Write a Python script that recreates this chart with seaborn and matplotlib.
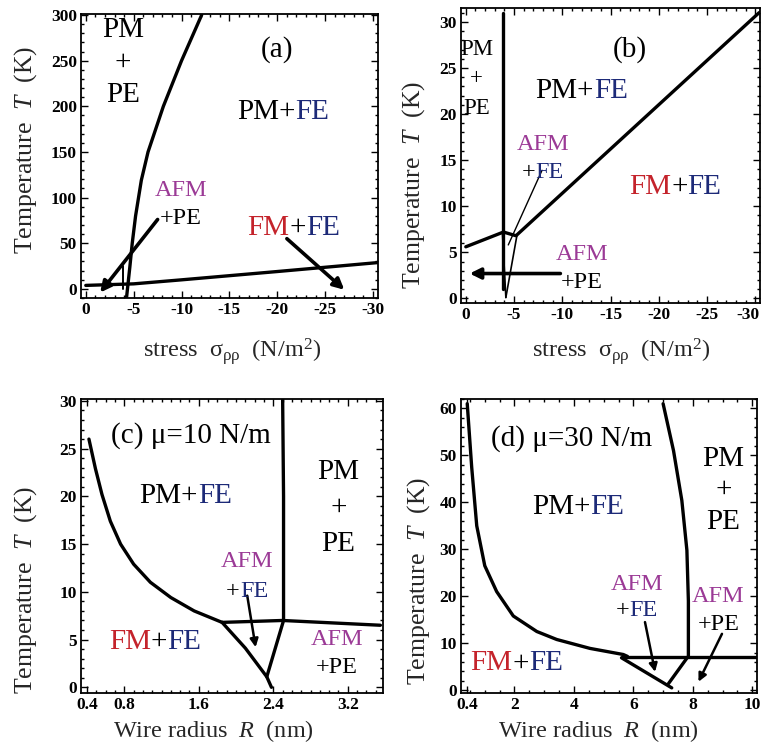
import matplotlib
matplotlib.use("Agg")
import matplotlib.pyplot as plt
import seaborn as sns
from matplotlib.offsetbox import TextArea, HPacker, VPacker, AnnotationBbox
from matplotlib.ticker import MultipleLocator
from matplotlib.transforms import ScaledTranslation

# ---------------- data ----------------
# Panel (a): stress vs T (0..300 K)
a_pm_x = [-4.25, -4.6, -4.85, -5.2, -5.8, -6.5, -8.1, -10.0, -12.1]
a_pm_t = [-10, 24, 50, 80, 119, 150, 200, 250, 300]
a_vert_x = [-3.9, -3.9]
a_vert_t = [0, 25]
a_low_x = [0.0, -5.0, -10.0, -20.0, -30.5]
a_low_t = [3.8, 5.5, 9.9, 19.0, 28.8]
a_arrow1 = [(-7.5, 76), (-1.5, -4)]     # tail, head
a_arrow2 = [(-21.0, 55), (-27.0, -1)]
a_xticks = [0, -5, -10, -15, -20, -25, -30]
a_xticklabels = ["0", "-5", "-10", "-15", "-20", "-25", "-30"]
a_yticks = [0, 50, 100, 150, 200, 250, 300]

# Panel (b): stress vs T (0..30 K)
b_vert_x = [-3.9, -3.9]
b_vert_t = [31.0, 1.0]
b_low_x = [0.0, -3.9, -5.2, -30.4]
b_low_t = [5.6, 7.2, 6.8, 31.0]
b_vleft_x = [-3.8, -4.15]
b_vleft_t = [7.0, 0.1]
b_vright_x = [-5.3, -4.15]
b_vright_t = [6.85, 0.1]
b_thin_x = [-7.9, -4.4]
b_thin_t = [13.9, 5.8]
b_arrow = [(-9.8, 2.7), (-0.4, 2.7)]
b_xticks = [0, -5, -10, -15, -20, -25, -30]
b_xticklabels = ["0", "-5", "-10", "-15", "-20", "-25", "-30"]
b_yticks = [0, 5, 10, 15, 20, 25, 30]

# Panel (c): wire radius vs T, mu = 10 N/m
c_curve_r = [0.42, 0.49, 0.56, 0.65, 0.76, 0.90, 1.08, 1.30, 1.55, 1.85]
c_curve_t = [26.0, 22.9, 20.2, 17.4, 15.0, 12.9, 11.0, 9.4, 8.0, 6.8]
c_flat_r = [1.85, 2.50, 3.55]
c_flat_t = [6.8, 7.0, 6.5]
c_fm_r = [1.85, 2.10, 2.33, 2.38]
c_fm_t = [6.8, 4.1, 1.1, 0.0]
c_right_r = [2.33, 2.51]
c_right_t = [1.1, 7.0]
c_vert_r = [2.51, 2.51, 2.50]
c_vert_t = [7.0, 20.0, 30.5]
c_arrow = [(2.12, 9.6), (2.21, 4.2)]
c_xticks = [0.4, 0.8, 1.6, 2.4, 3.2]
c_xticklabels = ["0.4", "0.8", "1.6", "2.4", "3.2"]
c_yticks = [0, 5, 10, 15, 20, 25, 30]

# Panel (d): wire radius vs T, mu = 30 N/m
d_curve_r = [0.41, 0.56, 0.73, 1.00, 1.40, 1.96, 2.75, 3.42, 4.54, 5.66, 5.80]
d_curve_t = [61.0, 47.5, 35.0, 26.5, 21.0, 15.8, 12.5, 10.8, 8.9, 7.6, 7.2]
d_flat_r = [5.6, 10.2]
d_flat_t = [7.0, 7.0]
d_fm_r = [5.6, 7.29]
d_fm_t = [6.9, 0.5]
d_right_r = [7.18, 7.82]
d_right_t = [1.4, 7.0]
d_steep_r = [7.0, 7.35, 7.63, 7.80, 7.85, 7.85]
d_steep_t = [61.0, 51.0, 40.4, 29.8, 19.0, 7.0]
d_arrow1 = [(6.39, 14.5), (6.73, 3.9)]
d_arrow2 = [(8.98, 12.0), (8.19, 1.8)]
d_xticks = [0.4, 2, 4, 6, 8, 10]
d_xticklabels = ["0.4", "2", "4", "6", "8", "10"]
d_yticks = [0, 10, 20, 30, 40, 50, 60]

# ---------------- style ----------------
sns.set_theme(style="ticks")
SERIF = "Liberation Serif"
plt.rcParams["font.family"] = [SERIF, "DejaVu Serif"]
plt.rcParams["mathtext.fontset"] = "custom"
plt.rcParams["mathtext.rm"] = SERIF
plt.rcParams["mathtext.it"] = SERIF + ":italic"
plt.rcParams["mathtext.bf"] = SERIF + ":bold"
plt.rcParams["axes.unicode_minus"] = False

K = "black"
RED = "#c4232b"
BLUE = "#1d2a78"
PURP = "#9b3a96"
LW = 2.4
BIG = 21
SMALL = 17.5

fig = plt.figure(figsize=(7.65, 7.51), dpi=100)
ax_a = fig.add_axes([0.1059, 0.6032, 0.388, 0.378])
ax_b = fig.add_axes([0.6026, 0.5965, 0.391, 0.3928])
ax_c = fig.add_axes([0.1059, 0.0772, 0.395, 0.3915])
ax_d = fig.add_axes([0.6026, 0.0772, 0.387, 0.3915])


def line(ax, xs, ys, lw=LW):
    sns.lineplot(x=xs, y=ys, ax=ax, color=K, lw=lw, sort=False, estimator=None)


def arrow(ax, pts, lw=2.6, ms=16):
    (x0, y0), (x1, y1) = pts
    ax.annotate("", xy=(x1, y1), xytext=(x0, y0),
                arrowprops=dict(arrowstyle="-|>", lw=lw, color=K,
                                mutation_scale=ms, shrinkA=0, shrinkB=0))


def label(ax, x, y, rows, size=BIG, sep=0):
    boxes = []
    for row in rows:
        kids = [TextArea(t, textprops=dict(color=c, fontsize=size, family=SERIF))
                for t, c in row]
        boxes.append(HPacker(children=kids, align="baseline", pad=0, sep=0))
    v = VPacker(children=boxes, align="center", pad=0, sep=sep)
    ab = AnnotationBbox(v, (x, y), xycoords="data", frameon=False,
                        box_alignment=(0.5, 0.5), pad=0, annotation_clip=False)
    ax.add_artist(ab)


def style(ax, xlim, ylim, xticks, xticklabels, yticks, xminor, yminor, xlabel,
          xlab_pos, ylab_pos):
    ax.set_xlim(*xlim)
    ax.set_ylim(*ylim)
    ax.set_xticks(xticks)
    ax.set_xticklabels(xticklabels)
    ax.set_yticks(yticks)
    ax.set_yticklabels([str(v) for v in yticks])
    ax.xaxis.set_minor_locator(MultipleLocator(xminor))
    ax.yaxis.set_minor_locator(MultipleLocator(yminor))
    ax.tick_params(which="both", direction="in", top=True, right=True,
                   colors=K, width=1.0)
    ax.tick_params(which="major", length=5, labelsize=12.5, pad=3)
    ax.tick_params(which="minor", length=2.5)
    for lab in ax.get_xticklabels() + ax.get_yticklabels():
        lab.set_fontweight("bold")
    for s in ax.spines.values():
        s.set_visible(True)
        s.set_color(K)
        s.set_linewidth(1.3)
    ax.set_xlabel(xlabel, fontsize=17.5)
    ax.set_ylabel(r"Temperature  $T$  (K)", fontsize=18.5)
    ax.xaxis.set_label_coords(*xlab_pos)
    ax.yaxis.set_label_coords(*ylab_pos)


stress_label = r"stress  σ$_{\mathrm{ρρ}}$  (N/m$^2$)"
radius_label = r"Wire radius  $R$  (nm)"

# ---- panel (a)
line(ax_a, a_pm_x, a_pm_t)
line(ax_a, a_vert_x, a_vert_t, lw=1.4)
line(ax_a, a_low_x, a_low_t)
arrow(ax_a, a_arrow1)
arrow(ax_a, a_arrow2)
style(ax_a, (0.5, -30.5), (-10, 301), a_xticks, a_xticklabels, a_yticks, 1, 10,
      stress_label, (0.508, -0.134), (-0.141, 0.52))
label(ax_a, -3.9, 248, [[("PM", K)], [("+", K)], [("PE", K)]], sep=5)
label(ax_a, -20.0, 262, [[("(a)", K)]])
label(ax_a, -20.6, 194, [[("PM+", K), ("FE", BLUE)]])
label(ax_a, -9.9, 92, [[("AFM", PURP)], [("+PE", K)]], size=SMALL, sep=5)
label(ax_a, -21.7, 67, [[("FM", RED), ("+", K), ("FE", BLUE)]])

# ---- panel (b)
line(ax_b, b_vert_x, b_vert_t)
line(ax_b, b_low_x, b_low_t)
line(ax_b, b_vleft_x, b_vleft_t, lw=1.2)
line(ax_b, b_vright_x, b_vright_t, lw=1.2)
line(ax_b, b_thin_x, b_thin_t, lw=1.0)
arrow(ax_b, b_arrow)
style(ax_b, (0.5, -30.5), (-0.5, 31.5), b_xticks, b_xticklabels, b_yticks, 1, 1,
      stress_label, (0.535, -0.112), (-0.114, 0.40))
last = ax_b.get_xticklabels()[-1]
last.set_transform(last.get_transform() + ScaledTranslation(-5 / 72, 0, fig.dpi_scale_trans))
label(ax_b, -1.1, 23.8, [[("PM", K)], [("+", K)], [("PE", K)]], size=16.5, sep=6)
label(ax_b, -17.0, 27, [[("(b)", K)]])
label(ax_b, -12.0, 22.5, [[("PM+", K), ("FE", BLUE)]])
label(ax_b, -8.0, 15.2, [[("AFM", PURP)], [("+", K), ("FE", BLUE)]], size=SMALL, sep=5)
label(ax_b, -12.0, 3.2, [[("AFM", PURP)], [("+PE", K)]], size=SMALL, sep=5)
label(ax_b, -21.7, 12.1, [[("FM", RED), ("+", K), ("FE", BLUE)]])

# ---- panel (c)
line(ax_c, c_curve_r, c_curve_t)
line(ax_c, c_flat_r, c_flat_t)
line(ax_c, c_fm_r, c_fm_t)
line(ax_c, c_right_r, c_right_t)
line(ax_c, c_vert_r, c_vert_t)
arrow(ax_c, c_arrow, lw=1.8, ms=12)
style(ax_c, (0.335, 3.58), (-0.6, 30.2), c_xticks, c_xticklabels, c_yticks, 0.1, 1,
      radius_label, (0.437, -0.085), (-0.139, 0.35))
label(ax_c, 1.51, 26.4, [[("(c) μ=10 N/m", K)]])
label(ax_c, 1.46, 20.0, [[("PM+", K), ("FE", BLUE)]])
label(ax_c, 3.10, 18.8, [[("PM", K)], [("+", K)], [("PE", K)]], sep=7)
label(ax_c, 2.12, 11.6, [[("AFM", PURP)], [("+", K), ("FE", BLUE)]], size=SMALL, sep=6)
label(ax_c, 1.13, 4.75, [[("FM", RED), ("+", K), ("FE", BLUE)]])
label(ax_c, 3.08, 3.5, [[("AFM", PURP)], [("+PE", K)]], size=SMALL, sep=5)

# ---- panel (d)
line(ax_d, d_curve_r, d_curve_t)
line(ax_d, d_flat_r, d_flat_t)
line(ax_d, d_fm_r, d_fm_t)
line(ax_d, d_right_r, d_right_t)
line(ax_d, d_steep_r, d_steep_t)
arrow(ax_d, d_arrow1, lw=1.8, ms=12)
arrow(ax_d, d_arrow2, lw=1.8, ms=12)
style(ax_d, (0.2, 10.16), (-0.6, 62), d_xticks, d_xticklabels, d_yticks, 0.5, 2,
      radius_label, (0.466, -0.085), (-0.098, 0.38))
label(ax_d, 3.93, 53.5, [[("(d) μ=30 N/m", K)]])
label(ax_d, 4.15, 39.0, [[("PM+", K), ("FE", BLUE)]])
label(ax_d, 9.03, 42.6, [[("PM", K)], [("+", K)], [("PE", K)]], sep=4)
label(ax_d, 6.11, 19.7, [[("AFM", PURP)], [("+", K), ("FE", BLUE)]], size=SMALL, sep=4)
label(ax_d, 8.86, 17.0, [[("AFM", PURP)], [("+PE", K)]], size=SMALL, sep=5)
label(ax_d, 2.07, 5.7, [[("FM", RED), ("+", K), ("FE", BLUE)]])

fig.savefig("out.png", dpi=100)
